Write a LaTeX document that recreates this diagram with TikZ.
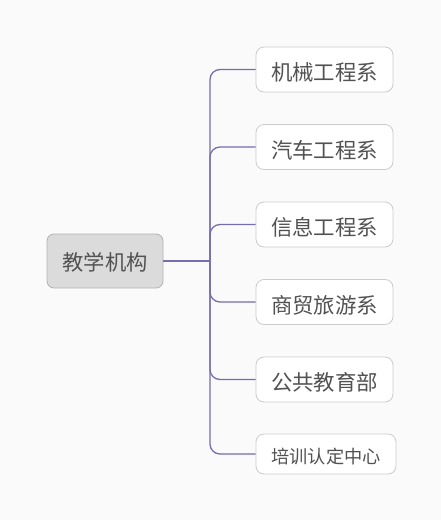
\documentclass[tikz,border=0pt]{standalone}
\usepackage{fontspec}
\setmainfont{Noto Sans CJK SC}
\newcommand{\lowtxt}[2]{\raisebox{-#1}[\height][\depth]{#2}}
\begin{document}
\begin{tikzpicture}[x=1pt,y=-1pt,
  rootbox/.style={draw=black!30,fill=black!14,rounded corners=7,line width=0.8pt,minimum width=116,minimum height=54,inner sep=0pt,text=black!68,font=\fontsize{21.3}{24}\selectfont},
  childbox/.style={draw=black!20,fill=white,rounded corners=8,line width=0.8pt,minimum width=137,minimum height=45,inner sep=0pt,text=black!68,font=\fontsize{21.4}{24}\selectfont},
  conn/.style={draw={rgb,255:red,120;green,108;blue,175},line width=1.3pt}]
\fill[black!2] (0,0) rectangle (441,520);
\useasboundingbox (0,0) rectangle (441,520);
\node[rootbox] (root) at (105,261) {\lowtxt{1.5pt}{教学机构}};
\node[childbox] (c1) at (324.5,69.5) {\lowtxt{3pt}{机械工程系}};
\node[childbox] (c2) at (324.5,147) {\lowtxt{3pt}{汽车工程系}};
\node[childbox] (c3) at (324.5,224.5) {\lowtxt{3pt}{信息工程系}};
\node[childbox] (c4) at (324.5,302) {\lowtxt{3pt}{商贸旅游系}};
\node[childbox] (c5) at (324.5,379.5) {\lowtxt{3pt}{公共教育部}};
\node[childbox,minimum width=140,minimum height=40,font=\fontsize{18.2}{20}\selectfont] (c6) at (326,454) {\lowtxt{3pt}{培训认定中心}};
\coordinate (j) at (210,261);
\draw[conn] (root.east) -- (j);
\foreach \c in {c1,c2,c3,c4,c5,c6}{
  \draw[conn,rounded corners=10] (j) |- (\c.west);
}
\end{tikzpicture}
\end{document}
